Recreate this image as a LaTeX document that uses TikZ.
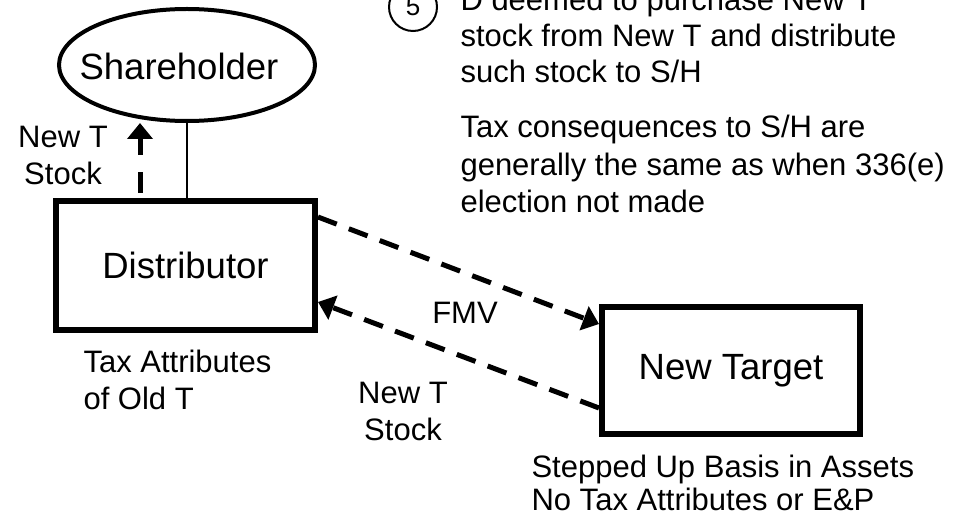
\documentclass[tikz,border=0pt]{standalone}
\usepackage{fontspec}
\setmainfont{Liberation Sans}
\usetikzlibrary{shapes.geometric,arrows.meta}
\tikzset{
  bigtxt/.style={font=\fontsize{36.5}{42}\selectfont},
  smalltxt/.style={font=\fontsize{31}{37}\selectfont},
  entity/.style={draw, line width=6pt, inner sep=0pt, bigtxt},
  flow/.style={line width=5pt, dash pattern=on 20pt off 13pt,
    -{Triangle[width=25pt,length=16pt]}},
  upflow/.style={flow, dash pattern=on 21pt off 17pt, dash phase=33pt},
}
\begin{document}
\begin{tikzpicture}[x=1pt,y=-1pt]
\useasboundingbox (0,0) rectangle (974,513);

% parties
\node[ellipse, draw, line width=4pt, minimum width=256pt, minimum height=112pt,
      inner sep=0pt] (sh) at (187,65) {};
\node[bigtxt, anchor=base] (shlabel) at (179,80) {Shareholder};
\node[entity, minimum width=259pt, minimum height=129pt] (dist) at (185.5,265.5) {Distributor};
\node[entity, minimum width=258pt, minimum height=127pt] (nt) at (731,370.5) {New Target};

% step marker and explanation (base anchor = last line's baseline)
\node[circle, draw, line width=2pt, minimum size=48pt, inner sep=0pt,
      font=\fontsize{26}{30}\selectfont] (step5) at (413,7) {5};
\node[anchor=base west, align=left, font=\fontsize{31}{36}\selectfont] (deemed) at (457,83)
  {D deemed to purchase New T\\stock from New T and distribute\\such stock to S/H};
\node[smalltxt, anchor=base west, align=left] (taxcons) at (457,212)
  {Tax consequences to S/H are\\generally the same as when 336(e)\\election not made};

% labels
\node[smalltxt, anchor=base, align=center] (ntstockup) at (63,185) {New T\\Stock};
\node[smalltxt, anchor=base west, align=left] (oldattr) at (80,409) {Tax Attributes\\of Old T};
\node[smalltxt, anchor=base] (fmv) at (465,323) {FMV};
\node[smalltxt, anchor=base, align=center] (ntstockback) at (403,440) {New T\\Stock};
\node[anchor=base west, align=left, font=\fontsize{31}{33}\selectfont] (basis) at (528,510)
  {Stepped Up Basis in Assets\\No Tax Attributes or E\&P};

% connectors
\coordinate (uptip) at (140,123);
\draw[line width=2.5pt] (sh.south) -- (sh.south |- dist.north);
\draw[upflow] (dist.north -| uptip) -- (uptip);
\draw[flow] (dist.east |- 0,217) -- (nt.west |- 0,324);
\draw[flow] (nt.west |- 0,408) -- (dist.east |- 0,302);
\end{tikzpicture}
\end{document}
